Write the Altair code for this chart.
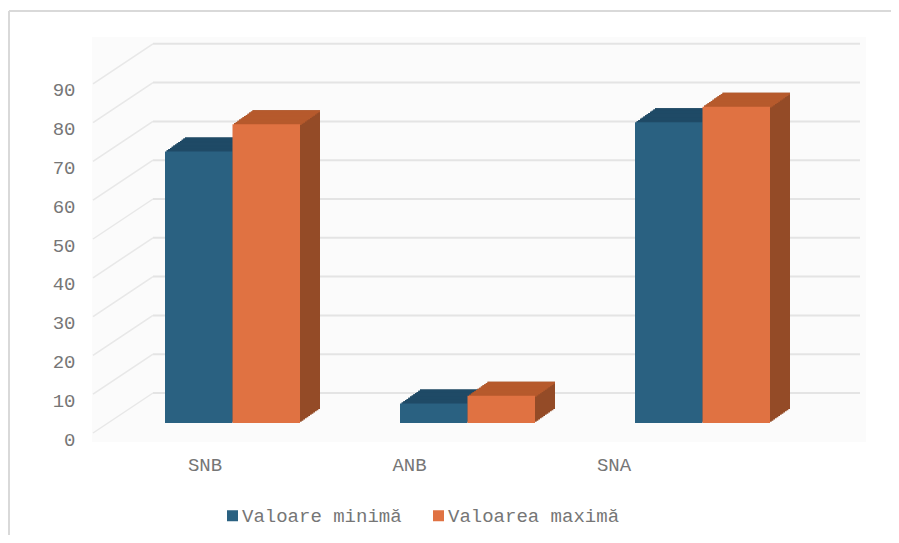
import altair as alt
import pandas as pd

# ---- data ----
categories = ["SNB", "ANB", "SNA"]
series = ["Valoare minimă", "Valoarea maximă"]
min_values = [70, 5, 77.5]
max_values = [77, 7, 81.5]
y_ticks = [0, 10, 20, 30, 40, 50, 60, 70, 80, 90]

rows = []
for c, a, b in zip(categories, min_values, max_values):
    rows.append({"cat": c, "series": series[0], "value": a})
    rows.append({"cat": c, "series": series[1], "value": b})
df = pd.DataFrame(rows)
grid_df = pd.DataFrame({"value": y_ticks})
cat_df = pd.DataFrame({"cat": categories})

# ---- style ----
W, H = 774, 405
BAR_W = 67.5
DX, DY = 20.0, 14.0
N = 12
FONT = "Liberation Mono"
TXT = "#767676"
front_colors = ["#2a6181", "#e07242"]
top_colors = ["#1f4a66", "#b65a2c"]
side_colors = ["#1b435c", "#944b27"]
offsets = [-BAR_W / 2, BAR_W / 2]

yscale = alt.Scale(domain=[0, 100], range=[386, -2], nice=False, zero=True)
xscale = alt.Scale(domain=categories, range=[23, 728], paddingInner=0, paddingOuter=0)
lscale = alt.Scale(domain=categories, range=[10.75, 624.25], paddingInner=0, paddingOuter=0)

yaxis = alt.Axis(values=y_ticks, labelOffset=16, ticks=False, domain=False, grid=False,
                 labelPadding=17, labelFont=FONT, labelFontSize=19, labelColor=TXT, title=None)


def X():
    return alt.X("cat:N", scale=xscale, axis=None, sort=categories)


def Y():
    return alt.Y("value:Q", scale=yscale, axis=yaxis)


layers = []

# outer frame (top and left edges)
frame = pd.DataFrame({"k": [0]})
layers.append(alt.Chart(frame).mark_rule(color="#d9d9d9", strokeWidth=2).encode(
    x=alt.value(-83), x2=alt.value(830), y=alt.value(-26), y2=alt.value(-26)))
layers.append(alt.Chart(frame).mark_rule(color="#d9d9d9", strokeWidth=2).encode(
    x=alt.value(-83), x2=alt.value(-83), y=alt.value(-26), y2=alt.value(600)))

# back-wall gridlines
layers.append(alt.Chart(grid_df).mark_rule(color="#e4e4e4", strokeWidth=2, yOffset=-30, y2Offset=-30).encode(
    y=Y(), y2=alt.Y2("value:Q"), x=alt.value(61), x2=alt.value(768)))
# side-wall diagonals
layers.append(alt.Chart(grid_df).mark_rule(color="#e8e8e8", strokeWidth=1.5, yOffset=10, y2Offset=-30).encode(
    y=Y(), y2=alt.Y2("value:Q"), x=alt.value(1), x2=alt.value(61)))

# 3D depth: side stacks then top strips, per series
for i, s in enumerate(series):
    sub = alt.Chart(df).transform_filter(alt.datum.series == s)
    for k in range(1, N + 1):
        dx = DX * k / N
        dy = DY * k / N
        layers.append(sub.mark_bar(width=BAR_W, color=side_colors[i], xOffset=offsets[i] + dx,
                                   yOffset=-dy, y2Offset=-dy).encode(x=X(), y=Y()))
    for k in range(1, N + 1):
        dx = DX * k / N
        dy = DY * k / N
        layers.append(sub.mark_bar(width=BAR_W, color=top_colors[i], xOffset=offsets[i] + dx,
                                   yOffset=-dy, y2Offset=-dy + DY / N + 0.8).encode(
            x=X(), y=Y(), y2=alt.Y2("value:Q")))

# front faces
legend = alt.Legend(title=None, orient="none", legendX=131, legendY=469, direction="horizontal",
                    symbolType="square", symbolSize=121, symbolStrokeWidth=0,
                    labelFont=FONT, labelFontSize=19, labelColor=TXT, labelLimit=400,
                    columnPadding=27, labelOffset=0)
for i, s in enumerate(series):
    sub = alt.Chart(df).transform_filter(alt.datum.series == s)
    layers.append(sub.mark_bar(width=BAR_W, xOffset=offsets[i]).encode(
        x=X(), y=Y(),
        color=alt.Color("series:N", scale=alt.Scale(domain=series, range=front_colors), legend=legend)))

# category labels
layers.append(alt.Chart(cat_df).mark_text(font=FONT, fontSize=19, color=TXT, baseline="middle").encode(
    x=alt.X("cat:N", scale=lscale, axis=None, sort=categories),
    y=alt.value(428), text="cat:N"))

chart = alt.layer(*layers).resolve_scale(x="independent").properties(
    width=W, height=H,
    padding={"left": 84, "top": 29, "right": 25, "bottom": 93},
    autosize=alt.AutoSizeParams(type="none"),
    background="white",
).configure_view(fill="#fbfbfb", strokeWidth=0)

chart.save("out.html", embed_options={"renderer": "svg", "actions": False})
